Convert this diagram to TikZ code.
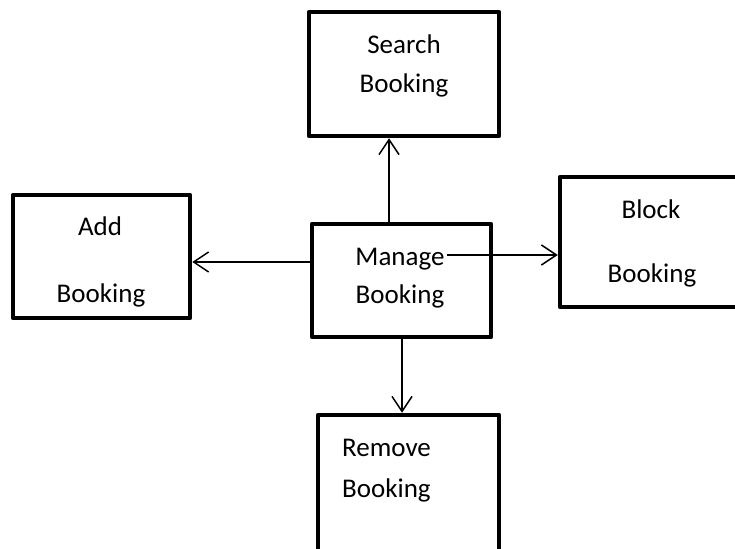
\documentclass[tikz,border=0pt]{standalone}
\usepackage{fontspec}
\setmainfont{Carlito}
\usetikzlibrary{arrows.meta}
\tikzset{
  box/.style={draw, line width=4.5pt, line join=round, rectangle, inner sep=0pt},
  lbl/.style={anchor=base, inner sep=0pt, font=\fontsize{27}{32}\selectfont},
  arr/.style={line width=1.5pt, -{Straight Barb[length=15pt,width=20pt,line width=1.5pt]}}
}
\begin{document}
\begin{tikzpicture}[x=1pt,y=-1pt]
  \useasboundingbox (0,0) rectangle (735,548);
  \clip (0,0) rectangle (735,548);

  % boxes
  \node[box, minimum width=190pt, minimum height=124pt] (sb) at (404,74) {};
  \node[box, minimum width=177pt, minimum height=123pt] (ab) at (101.5,256.5) {};
  \node[box, minimum width=179pt, minimum height=113pt] (mg) at (401.5,280.5) {};
  \node[box, minimum width=185pt, minimum height=130pt] (bb) at (652.5,242) {};
  \node[box, minimum width=181pt, minimum height=145pt] (rb) at (408.5,487.5) {};

  % labels
  \node[lbl] (sb1) at (404,54) {Search};
  \node[lbl] (sb2) at (404,93) {Booking};
  \node[lbl] (ab1) at (100,235) {Add};
  \node[lbl] (ab2) at (101,302) {Booking};
  \node[lbl] (mg1) at (400,265) {Manage};
  \node[lbl] (mg2) at (400,303) {Booking};
  \node[lbl] (bb1) at (651,218) {Block};
  \node[lbl] (bb2) at (652,282) {Booking};
  \node[lbl, anchor=base west] (rb1) at (342,456) {Remove};
  \node[lbl, anchor=base west] (rb2) at (342,497) {Booking};

  % connectors
  \coordinate (up) at (389,0);
  \coordinate (left) at (0,262);
  \coordinate (down) at (402,0);
  \coordinate (rs) at (447,255);
  \draw[arr] (mg.north -| up) -- (sb.south -| up);
  \draw[arr] (mg.west |- left) -- (ab.east |- left);
  \draw[arr] (mg.south -| down) -- (rb.north -| down);
  \draw[arr] (rs) -- (bb.west |- rs);
\end{tikzpicture}
\end{document}
